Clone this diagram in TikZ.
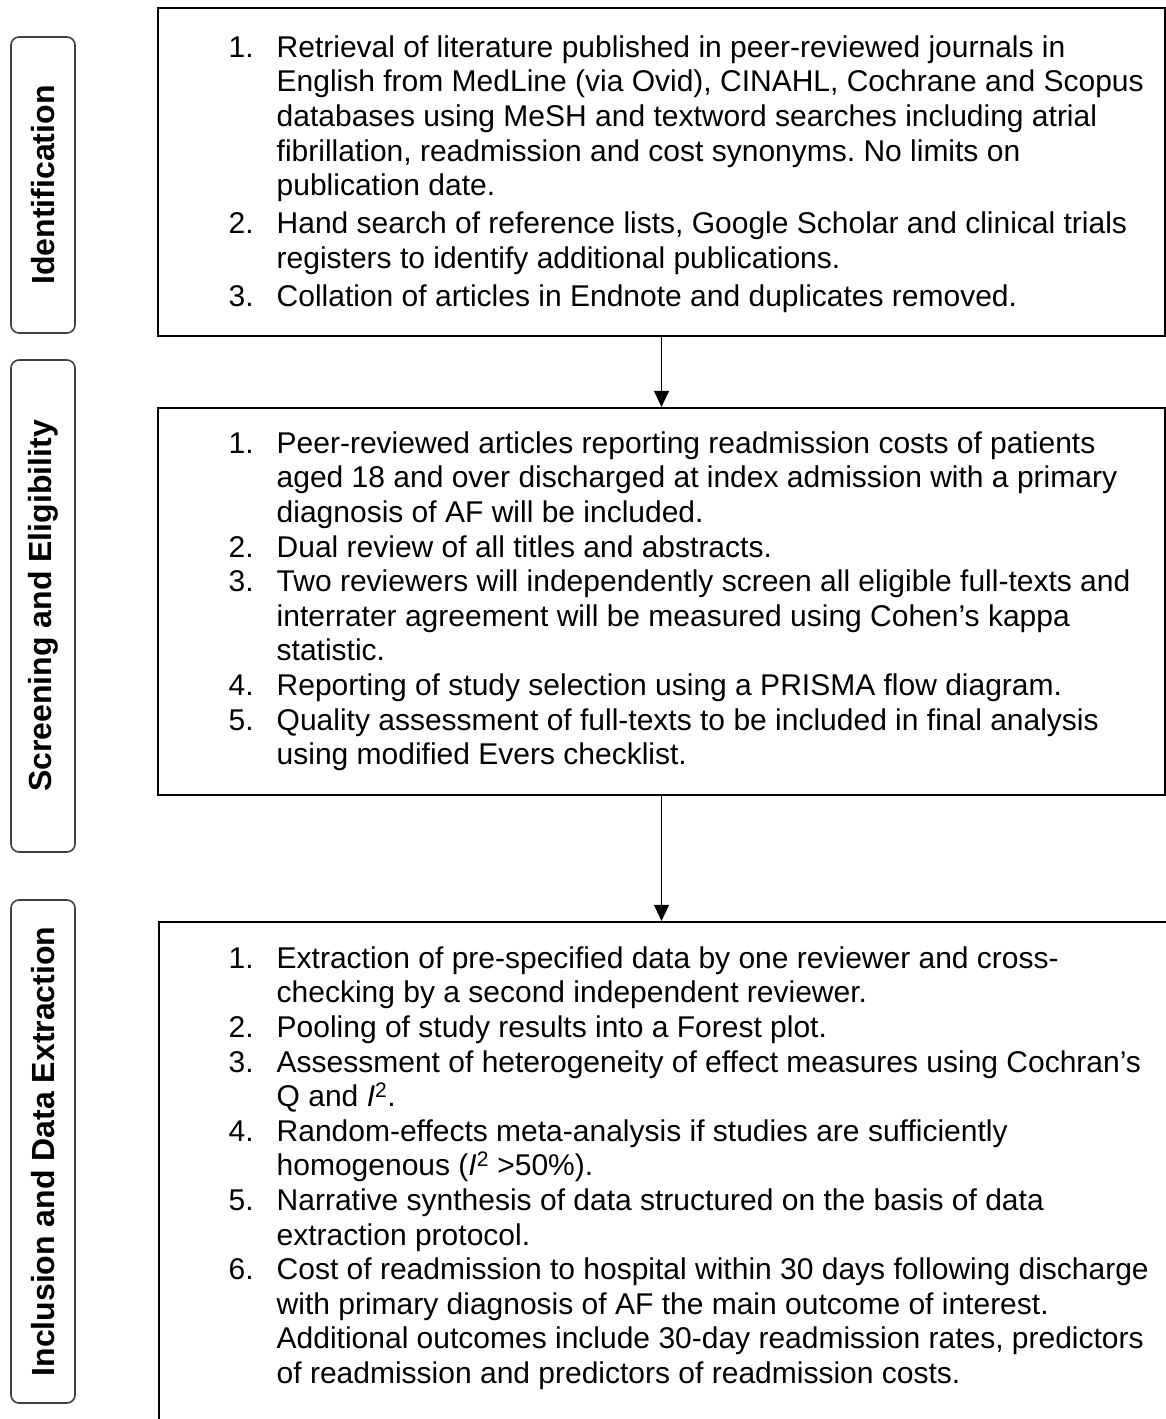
\documentclass[tikz,border=0pt]{standalone}
\usepackage{fontspec}
\setmainfont{Liberation Sans}
\usetikzlibrary{arrows.meta}
\frenchspacing
\begin{document}
\begin{tikzpicture}[x=1pt,y=-1pt,
  mainbox/.style={draw=black, line width=2.2pt, inner sep=0pt},
  sidebox/.style={draw=black!75, line width=1.6pt, rounded corners=8pt, rotate=90,
    minimum height=64pt, inner sep=0pt, font=\fontsize{32}{38}\selectfont\bfseries},
  itemtext/.style={anchor=north west, inner sep=0pt, align=left,
    font=\fontsize{30}{34.6}\selectfont\frenchspacing},
  flow/.style={line width=1.4pt, -{Triangle[length=16pt,width=15pt]}}]
\useasboundingbox (0,0) rectangle (1166,1419);
\clip (0,0) rectangle (1166,1419);
\fill[white] (0,0) rectangle (1166,1419);

% side labels
\node[sidebox, minimum width=296pt] (l1) at (43,185) {Identification};
\node[sidebox, minimum width=492pt] (l2) at (43,606) {Screening and Eligibility};
\node[sidebox, minimum width=503pt] (l3) at (43,1151.5) {Inclusion and Data Extraction};

% main boxes
\node[mainbox, minimum width=1007pt, minimum height=328pt] (b1) at (661.5,172) {};
\node[mainbox, minimum width=1007pt, minimum height=387pt] (b2) at (661.5,601.5) {};
\node[mainbox, minimum width=1017pt, minimum height=508pt] (b3) at (667.5,1176) {};

% connectors
\draw[flow] (b1.south) -- (b2.north);
\draw[flow] (b2.south) -- (b2.south |- b3.north);

% texts
\node[itemtext] (t1) at (228.5,32.8) {%
\begin{tabular}{@{}p{48pt}@{}l@{}}
1. & Retrieval of literature published in peer-reviewed journals in\\
   & English from MedLine (via Ovid), CINAHL, Cochrane and Scopus\\
   & databases using MeSH and textword searches including atrial\\
   & fibrillation, readmission and cost synonyms. No limits on\\
   & publication date.\\[3.5pt]
2. & Hand search of reference lists, Google Scholar and clinical trials\\
   & registers to identify additional publications.\\[3.5pt]
3. & Collation of articles in Endnote and duplicates removed.
\end{tabular}};

\node[itemtext] (t2) at (228.5,428.8) {%
\begin{tabular}{@{}p{48pt}@{}l@{}}
1. & Peer-reviewed articles reporting readmission costs of patients\\
   & aged 18 and over discharged at index admission with a primary\\
   & diagnosis of AF will be included.\\
2. & Dual review of all titles and abstracts.\\
3. & Two reviewers will independently screen all eligible full-texts and\\
   & interrater agreement will be measured using Cohen’s kappa\\
   & statistic.\\
4. & Reporting of study selection using a PRISMA flow diagram.\\
5. & Quality assessment of full-texts to be included in final analysis\\
   & using modified Evers checklist.
\end{tabular}};

\node[itemtext] (t3) at (228.5,943.8) {%
\begin{tabular}{@{}p{48pt}@{}l@{}}
1. & Extraction of pre-specified data by one reviewer and cross-\\
   & checking by a second independent reviewer.\\
2. & Pooling of study results into a Forest plot.\\
3. & Assessment of heterogeneity of effect measures using Cochran’s\\
   & Q and \textit{I}\textsuperscript{2}.\\
4. & Random-effects meta-analysis if studies are sufficiently\\
   & homogenous (\textit{I}\textsuperscript{2} >50\%).\\
5. & Narrative synthesis of data structured on the basis of data\\
   & extraction protocol.\\
6. & Cost of readmission to hospital within 30 days following discharge\\
   & with primary diagnosis of AF the main outcome of interest.\\
   & Additional outcomes include 30-day readmission rates, predictors\\
   & of readmission and predictors of readmission costs.
\end{tabular}};
\end{tikzpicture}
\end{document}
